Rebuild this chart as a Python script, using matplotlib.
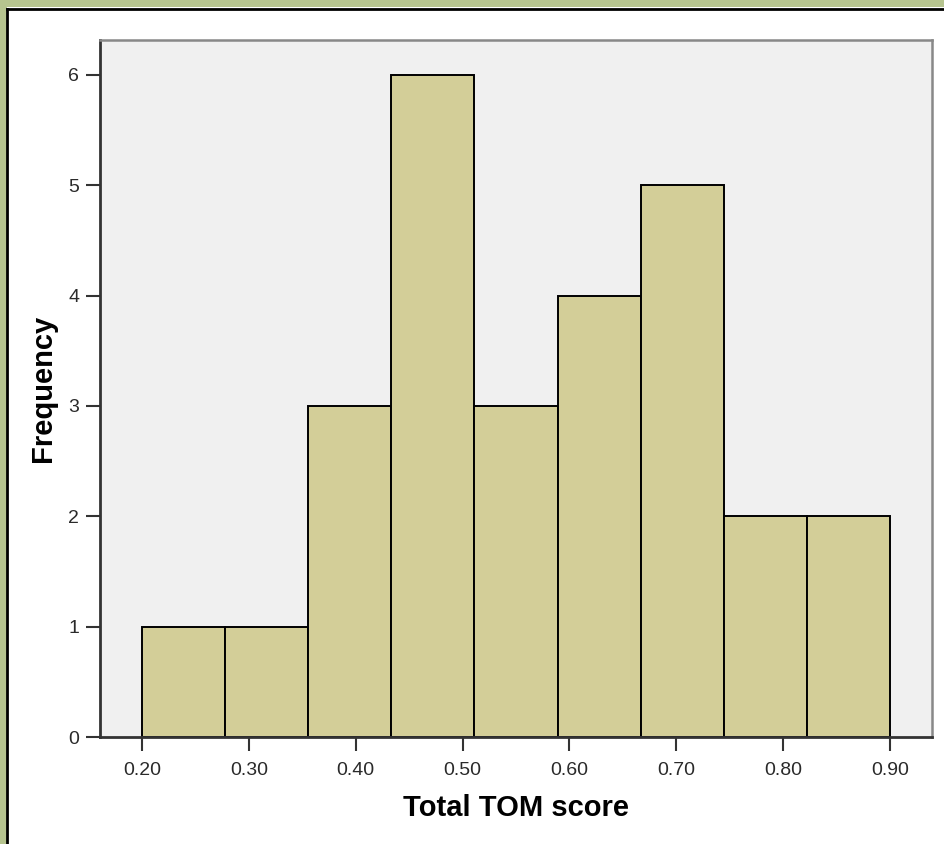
import numpy as np
import matplotlib
matplotlib.use('Agg')
import matplotlib.pyplot as plt
from matplotlib.patches import Rectangle
from matplotlib.lines import Line2D

# histogram of Total TOM score
binEdges = [0.20, 0.2778, 0.3556, 0.4333, 0.5111, 0.5889, 0.6667, 0.7444, 0.8222, 0.90]
frecuencias = [1, 1, 3, 6, 3, 4, 5, 2, 2]
xTicks = [0.20, 0.30, 0.40, 0.50, 0.60, 0.70, 0.80, 0.90]
xTickLabels = ['0.20', '0.30', '0.40', '0.50', '0.60', '0.70', '0.80', '0.90']
yTicks = [0, 1, 2, 3, 4, 5, 6]

plt.rcParams['font.family'] = ['Liberation Sans', 'DejaVu Sans']

fig = plt.figure(figsize=(9.45, 8.44), dpi=100)
fig.patch.set_facecolor('white')

# green frame on top and left, black inner line
fig.patches.append(Rectangle((0, 1 - 7/844), 1, 7/844, transform=fig.transFigure,
                             facecolor='#b6c48f', edgecolor='none', zorder=0))
fig.patches.append(Rectangle((0, 0), 7/945, 1, transform=fig.transFigure,
                             facecolor='#b6c48f', edgecolor='none', zorder=0))
fig.lines.append(Line2D([7.5/945, 1], [1 - 8.5/844, 1 - 8.5/844], transform=fig.transFigure,
                        color='black', lw=2))
fig.lines.append(Line2D([7.5/945, 7.5/945], [0, 1 - 8.5/844], transform=fig.transFigure,
                        color='black', lw=2))

ax = fig.add_axes([100/945, 1 - 737/844, 832/945, 697/844])
ax.set_facecolor('#f0f0f0')

anchos = np.diff(binEdges)
ax.bar(binEdges[:-1], frecuencias, width=anchos, align='edge',
       color='#d3ce98', edgecolor='black', linewidth=1.4)

ax.set_xlim(0.1607, 0.9393)
ax.set_ylim(0, 6.317)
ax.set_xticks(xTicks)
ax.set_xticklabels(xTickLabels)
ax.set_yticks(yTicks)

ax.tick_params(axis='both', direction='out', length=10, width=1.5, color='#333333',
               labelsize=14, labelcolor='#2a2a2a')
ax.tick_params(axis='x', pad=8)
ax.tick_params(axis='y', pad=5)
for lado in ['left', 'bottom']:
    ax.spines[lado].set_color('#333333')
    ax.spines[lado].set_linewidth(2)
for lado in ['top', 'right']:
    ax.spines[lado].set_color('#888888')
    ax.spines[lado].set_linewidth(1.8)

ax.set_xlabel('Total TOM score', fontsize=21, fontweight='bold', labelpad=11)
ax.set_ylabel('Frequency', fontsize=21, fontweight='bold', labelpad=8)

plt.savefig('out.png', dpi=100)
